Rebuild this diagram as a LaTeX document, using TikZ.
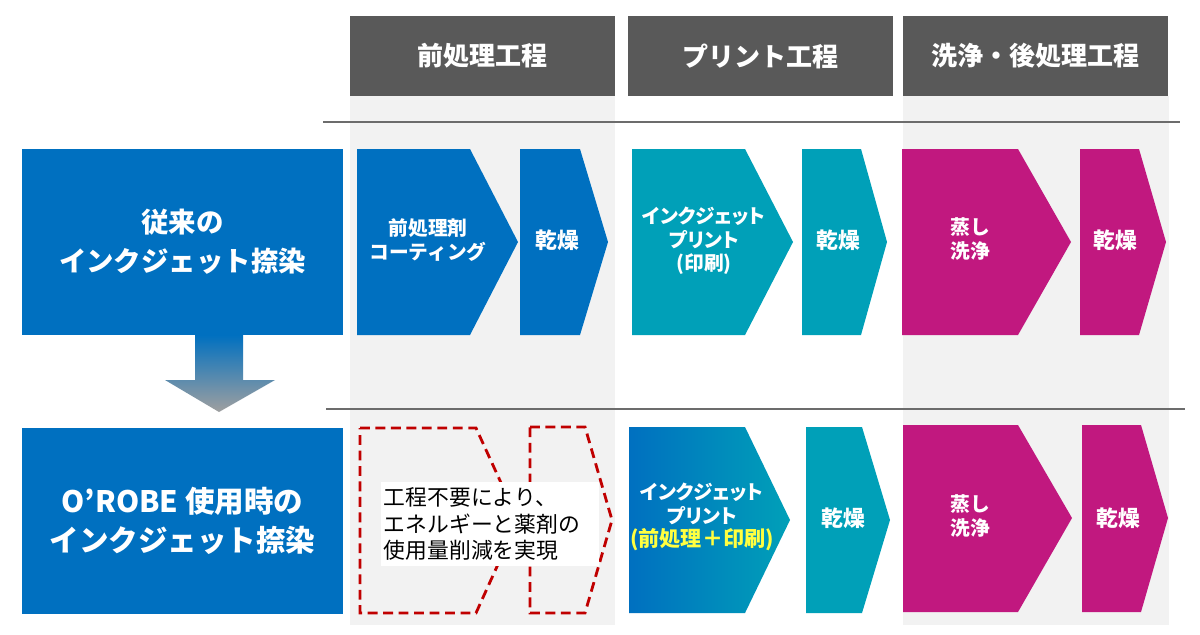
\documentclass[tikz,border=0pt]{standalone}
\usepackage{fontspec}
\setmainfont{Noto Sans CJK JP}
\newfontfamily\propjp[RawFeature=+palt]{Noto Sans CJK JP}
\usetikzlibrary{positioning}
\definecolor{procblue}{RGB}{0,112,192}
\definecolor{procteal}{RGB}{0,160,184}
\definecolor{procmagenta}{RGB}{193,24,127}
\definecolor{hdrgray}{RGB}{89,89,89}
\definecolor{colgray}{RGB}{242,242,242}
\definecolor{dashred}{RGB}{192,0,0}
\definecolor{noteyellow}{RGB}{255,255,64}

\begin{document}
\begin{tikzpicture}[x=0.025cm, y=-0.025cm,
        header/.style={fill=hdrgray, text=white, minimum width=6.625cm, minimum height=2cm,
            font=\bfseries\fontsize{18.5}{22}\selectfont},
        rowbox/.style={fill=procblue, text=white, align=center, minimum width=8.025cm,
            minimum height=4.65cm, font=\bfseries\fontsize{20}{27.7}\selectfont},
        proctext/.style={text=white, align=center, font=\bfseries\fontsize{14}{16.5}\selectfont},
        printtext/.style={proctext, font=\bfseries\propjp\fontsize{14}{16.6}\selectfont},
        drytext/.style={text=white, font=\bfseries\fontsize{15.5}{18}\selectfont},
        skipped/.style={draw=dashred, line width=2pt, dash pattern=on 7pt off 4pt},
        sepline/.style={draw=gray!85!black, line width=1.3pt}
    ]
    \useasboundingbox[fill=white] (0,0) rectangle (1200,634);

    % column backgrounds
    \fill[colgray] (350,96) rectangle (615,625);
    \fill[colgray] (903,96) rectangle (1169,625);

    % headers
    \node (hdr1) [header] at (482.5,56) {前処理工程};
    \node (hdr2) [header, right=0.3cm of hdr1] {プリント工程};
    \node (hdr3) [header, right=0.25cm of hdr2] {洗浄・後処理工程};

    \draw[sepline] (323,122) -- (1180,122);
    \draw[sepline] (326,409) -- (1185,409);

    % left boxes
    \node (conventional) [rowbox, font=\bfseries\fontsize{19.5}{27.7}\selectfont] at (182.5,242)
        {従来の\\インクジェット捺染};
    \node (orobe) [rowbox, below=2.3cm of conventional, font=\bfseries\fontsize{21}{27.7}\selectfont]
        {O’ROBE 使用時の\\インクジェット捺染};

    \shade[top color=procblue, bottom color=gray!75]
        (195,335) -- (243,335) -- (243,380) -- (275,380) -- (219,412)
        -- (165,380) -- (195,380) -- cycle;

    % conventional process
    \fill[procblue] (357,149) -- (470,149) -- (518,242) -- (470,335) -- (357,335) -- cycle;
    \fill[procblue] (520,149) -- (580,149) -- (608,242) -- (580,335) -- (520,335) -- cycle;
    \fill[procteal] (632,149) -- (745,149) -- (793,242) -- (745,335) -- (632,335) -- cycle;
    \fill[procteal] (802,149) -- (861,149) -- (887,242) -- (861,335) -- (802,335) -- cycle;
    \fill[procmagenta] (902,149) -- (1018,149) -- (1071,242) -- (1018,335) -- (902,335) -- cycle;
    \fill[procmagenta] (1080,149) -- (1139,149) -- (1166,242) -- (1139,335) -- (1080,335) -- cycle;

    \node (coat) [proctext] at (428,240) {前処理剤\\コーティング};
    \node (dry1) [drytext] at (557,240) {乾燥};
    \node (print1) [printtext] at (704,241) {インクジェット\\プリント\\(印刷)};
    \node (dry2) [drytext] at (838,240) {乾燥};
    \node (steam1) [proctext, align=left] at (970,239) {蒸し\\洗浄};
    \node (dry3) [drytext] at (1115,240) {乾燥};

    % O'ROBE process
    \draw[skipped] (360,428) -- (476,428) -- (518,520) -- (476,613) -- (360,613) -- cycle;
    \draw[skipped] (530,427) -- (585,427) -- (612,520) -- (585,613) -- (530,613) -- cycle;
    \shade[left color=procblue, right color=procteal]
        (629,427) -- (745,427) -- (790,520) -- (745,613) -- (629,613) -- cycle;
    \fill[procteal] (806,427) -- (862,427) -- (890,520) -- (862,613) -- (806,613) -- cycle;
    \fill[procmagenta] (903,425) -- (1018,425) -- (1072,518) -- (1018,612) -- (903,612) -- cycle;
    \fill[procmagenta] (1082,425) -- (1141,425) -- (1168,518) -- (1141,612) -- (1082,612) -- cycle;

    \node (note) [fill=white, text width=5.3cm, minimum height=2.1cm, align=left, inner sep=2pt,
        font=\fontsize{15.5}{18.9}\selectfont] at (490,524)
        {工程不要により、\\エネルギーと薬剤の\\使用量削減を実現};
    \node (print2) [printtext] at (702,517)
        {インクジェット\\プリント\\\textcolor{noteyellow}{\fontsize{15}{16.6}\selectfont(前処理＋印刷)}};
    \node (dry4) [drytext] at (843,518) {乾燥};
    \node (steam2) [proctext, align=left] at (970,516) {蒸し\\洗浄};
    \node (dry5) [drytext] at (1118,518) {乾燥};
\end{tikzpicture}
\end{document}
